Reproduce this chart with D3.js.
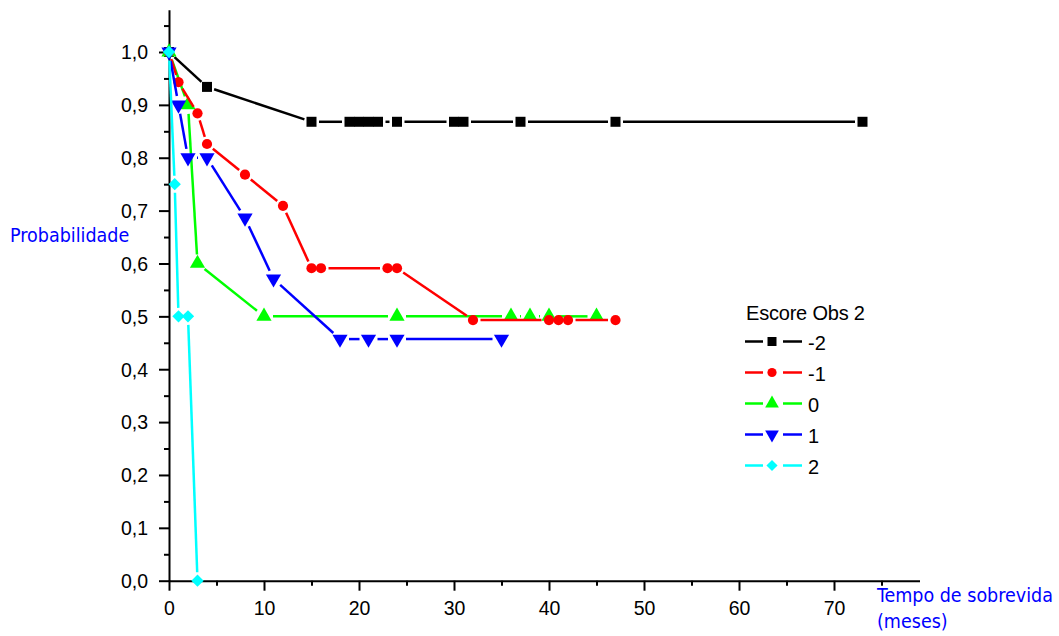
<!DOCTYPE html>
<html>
<head>
<meta charset="utf-8">
<script src="https://cdn.jsdelivr.net/npm/d3@7"></script>
<style>
  html, body { margin: 0; padding: 0; background: #fff; }
  svg { display: block; }
  .tick text { font-family: "Liberation Sans", Arial, sans-serif; font-size: 19.5px; fill: #000; }
</style>
</head>
<body>
<svg id="chart" width="1059" height="636"></svg>
<script>
// Kaplan-Meier survival by "Escore Obs 2" group (time in months)
const groups = ["-2", "-1", "0", "1", "2"];
const colors = ["#000000", "#ff0000", "#00ff00", "#0000ff", "#00ffff"];
const symbols = ["square", "circle", "triangleUp", "triangleDown", "diamond"];
const drawOrder = [0, 2, 1, 3, 4];

const monthsM2 = [0, 4, 15, 19, 20, 21, 22, 24, 30, 31, 37, 47, 73];
const probM2   = [1, 0.934, 0.868, 0.868, 0.868, 0.868, 0.868, 0.868, 0.868, 0.868, 0.868, 0.868, 0.868];

const monthsM1 = [0, 1, 3, 4, 8, 12, 15, 16, 23, 24, 32, 40, 41, 42, 47];
const probM1   = [1, 0.943, 0.884, 0.826, 0.768, 0.709, 0.591, 0.591, 0.591, 0.591, 0.493, 0.493, 0.493, 0.493, 0.493];

const months0 = [0, 2, 3, 10, 24, 36, 38, 40, 45];
const prob0   = [1, 0.9, 0.6, 0.5, 0.5, 0.5, 0.5, 0.5, 0.5];

const months1 = [0, 1, 2, 4, 8, 11, 18, 21, 24, 35];
const prob1   = [1, 0.9, 0.8, 0.8, 0.686, 0.571, 0.457, 0.457, 0.457, 0.457];

const months2 = [0, 0.6, 1, 2, 3];
const prob2   = [1, 0.75, 0.5, 0.5, 0];

const xTicks = [0, 10, 20, 30, 40, 50, 60, 70];
const yTicks = [0, 0.1, 0.2, 0.3, 0.4, 0.5, 0.6, 0.7, 0.8, 0.9, 1.0];

const allMonths = [monthsM2, monthsM1, months0, months1, months2];
const allProb = [probM2, probM1, prob0, prob1, prob2];

const series = groups.map((g, i) => ({
  name: g,
  color: colors[i],
  symbol: symbols[i],
  points: allMonths[i].map((m, k) => ({ x: m, y: allProb[i][k] }))
}));

const svg = d3.select("#chart");
const x = d3.scaleLinear().domain([0, 79]).range([169, 919.5]);
const y = d3.scaleLinear().domain([0, 1.08]).range([580.7, 9.7]);

const fmt = d => d.toFixed(1).replace(".", ",");

// Y axis: major ticks labelled, minor ticks in between
const yAxis = svg.append("g").attr("transform", `translate(${x(0)},0)`)
  .call(d3.axisLeft(y).tickValues(yTicks).tickFormat(fmt).tickSize(10).tickPadding(11).tickSizeOuter(0));
svg.append("g").attr("transform", `translate(${x(0)},0)`)
  .call(d3.axisLeft(y).tickValues(d3.range(0.05, 1.08, 0.1)).tickFormat("").tickSize(5).tickSizeOuter(0))
  .select(".domain").remove();

// X axis
const xAxis = svg.append("g").attr("transform", `translate(0,${y(0)})`)
  .call(d3.axisBottom(x).tickValues(xTicks).tickFormat(d3.format("d")).tickSize(10).tickPadding(10).tickSizeOuter(0));
svg.append("g").attr("transform", `translate(0,${y(0)})`)
  .call(d3.axisBottom(x).tickValues(d3.range(5, 79, 10)).tickFormat("").tickSize(5).tickSizeOuter(0))
  .select(".domain").remove();

svg.selectAll(".domain, .tick line").attr("stroke", "#000").attr("stroke-width", 2);
yAxis.selectAll(".tick text").attr("dy", "0.35em");

// Axis titles
const titleFont = "DejaVu Sans Condensed, DejaVu Sans, sans-serif";
svg.append("text").attr("x", 10).attr("y", 242)
  .attr("font-family", titleFont).attr("font-size", 19.5)
  .attr("fill", "#0000ff").text("Probabilidade");
svg.append("text").attr("x", 877).attr("y", 602)
  .attr("font-family", titleFont).attr("font-size", 19.5)
  .attr("fill", "#0000ff").text("Tempo de sobrevida");
svg.append("text").attr("x", 877).attr("y", 628)
  .attr("font-family", titleFont).attr("font-size", 19.5)
  .attr("fill", "#0000ff").text("(meses)");

// Marker shapes
function markerPath(kind) {
  switch (kind) {
    case "square": return d3.symbol(d3.symbolSquare, 100)();
    case "circle": return d3.symbol(d3.symbolCircle, 82)();
    case "triangleUp": return d3.symbol(d3.symbolTriangle, 100)();
    case "triangleDown": return d3.symbol(d3.symbolTriangle, 100)();
    case "diamond": return d3.symbol(d3.symbolSquare, 76)();
  }
}
function markerRotate(kind) {
  return kind === "triangleDown" ? 180 : kind === "diamond" ? 45 : 0;
}
const gapFor = { square: 7.5, circle: 7.5, triangleUp: 9, triangleDown: 9, diamond: 8.5 };

// Connect consecutive points, leaving a small gap around each marker
function gappedSegments(pts, gap) {
  const segs = [];
  for (let k = 1; k < pts.length; k++) {
    const x0 = x(pts[k - 1].x), y0 = y(pts[k - 1].y);
    const x1 = x(pts[k].x), y1 = y(pts[k].y);
    const len = Math.hypot(x1 - x0, y1 - y0);
    if (len <= 2 * gap) continue;
    const ux = (x1 - x0) / len, uy = (y1 - y0) / len;
    segs.push([x0 + ux * gap, y0 + uy * gap, x1 - ux * gap, y1 - uy * gap]);
  }
  return segs;
}

drawOrder.map(i => series[i]).forEach(s => {
  const g = svg.append("g");
  g.selectAll("line").data(gappedSegments(s.points, gapFor[s.symbol])).join("line")
    .attr("x1", d => d[0]).attr("y1", d => d[1])
    .attr("x2", d => d[2]).attr("y2", d => d[3])
    .attr("stroke", s.color).attr("stroke-width", 2.5);
  g.selectAll("path").data(s.points).join("path")
    .attr("d", markerPath(s.symbol))
    .attr("transform", d => `translate(${x(d.x)},${y(d.y)}) rotate(${markerRotate(s.symbol)})`)
    .attr("fill", s.color);
});

// Legend
const legendFont = "Liberation Sans, Arial, sans-serif";
const legend = svg.append("g");
legend.append("text").attr("x", 746).attr("y", 320)
  .attr("font-family", legendFont).attr("font-size", 20)
  .attr("letter-spacing", -0.2).text("Escore Obs 2");
series.forEach((s, i) => {
  const cy = 341.5 + i * 31;
  const row = legend.append("g").attr("transform", `translate(0,${cy})`);
  row.append("line").attr("x1", 745).attr("x2", 763).attr("y1", 0).attr("y2", 0)
    .attr("stroke", s.color).attr("stroke-width", 2.5);
  row.append("line").attr("x1", 783).attr("x2", 802).attr("y1", 0).attr("y2", 0)
    .attr("stroke", s.color).attr("stroke-width", 2.5);
  row.append("path").attr("d", markerPath(s.symbol))
    .attr("transform", `translate(772,0) rotate(${markerRotate(s.symbol)}) scale(0.9)`)
    .attr("fill", s.color);
  row.append("text").attr("x", 808).attr("y", 8.5)
    .attr("font-family", legendFont).attr("font-size", 20)
    .text(s.name);
});
</script>
</body>
</html>
